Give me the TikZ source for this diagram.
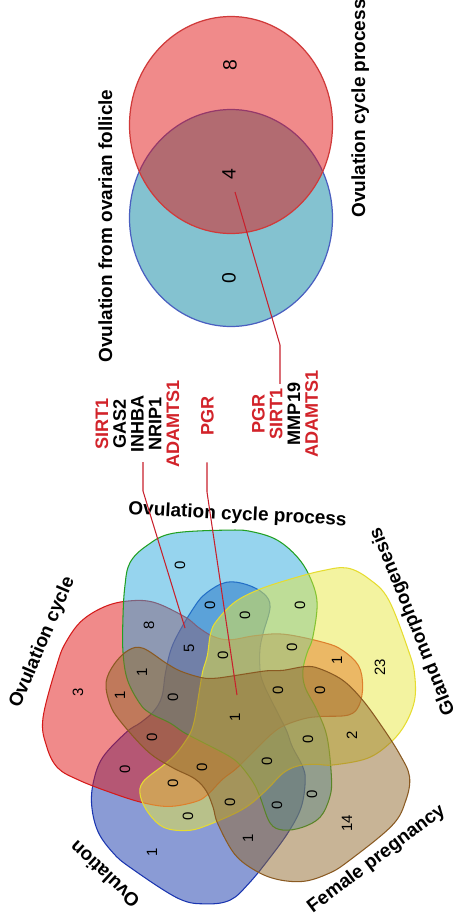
\documentclass[tikz,border=0pt]{standalone}
\usepackage{fontspec}
\setmainfont{Liberation Sans}
\usepackage{xcolor}
\usetikzlibrary{calc}
\definecolor{genered}{HTML}{D2232A}
\definecolor{leadred}{HTML}{C8202C}
\definecolor{pairred}{HTML}{E11515}
\definecolor{pairredline}{HTML}{D03A3A}
\definecolor{pairblue}{HTML}{0985A1}
\definecolor{pairblueline}{HTML}{4A5FC0}
\definecolor{setblu}{HTML}{1537AB}
\definecolor{setbluline}{HTML}{1A35B0}
\definecolor{setred}{HTML}{E11515}
\definecolor{setredline}{HTML}{D41A1A}
\definecolor{setsky}{HTML}{2DA9DD}
\definecolor{setskyline}{HTML}{22A022}
\definecolor{setyel}{HTML}{E7E741}
\definecolor{setyelline}{HTML}{E6DC30}
\definecolor{setbrn}{HTML}{91692D}
\definecolor{setbrnline}{HTML}{8A5A22}
\tikzset{
  blob/.style={fill opacity=0.5, line width=0.6pt, line join=round},
  pair/.style={fill opacity=0.5, line width=0.7pt},
  num/.style={font=\fontsize{8.5}{10}\selectfont, rotate=90, inner sep=0pt},
  pairnum/.style={font=\fontsize{11}{13}\selectfont, rotate=90, inner sep=0pt},
  setlab/.style={font=\fontsize{10.8}{13}\selectfont\bfseries, inner sep=0pt},
  genes/.style={font=\fontsize{10.3}{10.1}\selectfont\bfseries, align=center, rotate=90, inner sep=0pt},
  leader/.style={draw=leadred, line width=0.6pt},
}

\begin{document}
\begin{tikzpicture}[x=0.02cm, y=-0.02cm]
  \useasboundingbox (0,0) rectangle (458,923);

  % two-set diagram
  \filldraw[pair, fill=pairblue, draw=pairblueline] (231,218) ellipse [x radius=101.5, y radius=108.5];
  \filldraw[pair, fill=pairred, draw=pairredline] (231,125) ellipse [x radius=101.5, y radius=108.5];
  \node[pairnum] (aeight) at (230,65.5) {8};
  \node[pairnum] (afour) at (229,174) {4};
  \node[pairnum] (azero) at (229,278) {0};
  \node[setlab, rotate=90, anchor=base] (lfoll) at (112,226) {Ovulation from ovarian follicle};
  \node[setlab, rotate=90, anchor=base] (lproc) at (365,108.5) {Ovulation cycle process};

  % gene lists
  \node[genes] (gone) at (137.5,424) {\textcolor{genered}{SIRT1}\\GAS2\\INHBA\\NRIP1\\\textcolor{genered}{ADAMTS1}};
  \node[genes, text=genered] (gtwo) at (207.5,416) {PGR};
  \node[genes] (gthree) at (285,414) {\textcolor{genered}{PGR}\\\textcolor{genered}{SIRT1}\\MMP19\\\textcolor{genered}{ADAMTS1}};

  % five-set diagram
  \begin{scope}[shift={(235,715)}, yscale=-1]
    \foreach \ang/\fc/\dc in {144/setblu/setbluline, 72/setred/setredline, 0/setsky/setskyline,
                              -72/setyel/setyelline, -144/setbrn/setbrnline}
      \filldraw[blob, fill=\fc, draw=\dc, rotate=-\ang] plot[smooth cycle, tension=0.6] coordinates {
        (84.4:184) (91.5:185) (108.8:192) (117.4:191) (124.6:185) (130.7:169) (139.7:147)
        (151:128) (162:113) (173:96) (178.7:85) (187:65.5) (198:54.7) (213:45) (243:39)
        (263:42) (275.7:50) (285:69.4) (287:85.7) (288:113.5) (292.6:124.6) (301:131)
        (309.8:133) (319:125.5) (327:115) (346.6:94.6) (363.5:82) (381.8:75.4) (393.5:81.5)
        (400.7:95) (405:110) (413.8:139) (421.5:157) (428.6:170) (436.5:180)};
  \end{scope}

  \foreach \nx/\ny/\nv [count=\ni] in {180/565/0, 210/605/0, 245/615/0, 300/605/0, 149/625/8,
      189/648/5, 223/655/0, 292/647/0, 337/660/1, 380/667/23, 78/692/3, 142/672/1, 120/695/1,
      173/697/0, 278/690/0, 320/690/0, 235/717/1, 152/737/0, 352/735/2, 308/739/0, 125/769/0,
      202/767/0, 267/761/0, 173/783/0, 230/802/0, 312/794/0, 277/805/0, 188/816/0, 347/823/14,
      248/838/1, 152/852/1}
    \node[num] (v\ni) at (\nx,\ny) {\nv};

  \node[setlab, rotate=-3] (lsky) at (237.5,515) {Ovulation cycle process};
  \node[setlab, rotate=112] (lyel) at (413,621) {Gland morphogenesis};
  \node[setlab, rotate=37] (lbrn) at (376.5,859) {Female pregnancy};
  \node[setlab, rotate=137] (lblu) at (104.5,874.5) {Ovulation};
  \node[setlab, rotate=67] (lred) at (42.5,642.5) {Ovulation cycle};

  % leaders
  \coordinate (kone) at (143,491);
  \coordinate (tone) at (185,628);
  \coordinate (ktwo) at (207,492);
  \coordinate (ttwo) at (237,695);
  \coordinate (kthree) at (280,345);
  \coordinate (tthree) at (235,192);
  \draw[leader, shorten <=-3.4pt] (gone.west -| kone) -- (kone) -- (tone);
  \draw[leader, shorten <=15pt] (gtwo.west -| ktwo) -- (ktwo) -- (ttwo);
  \draw[leader, shorten <=-8pt] (gthree.east -| kthree) -- (kthree) -- (tthree);
\end{tikzpicture}
\end{document}
